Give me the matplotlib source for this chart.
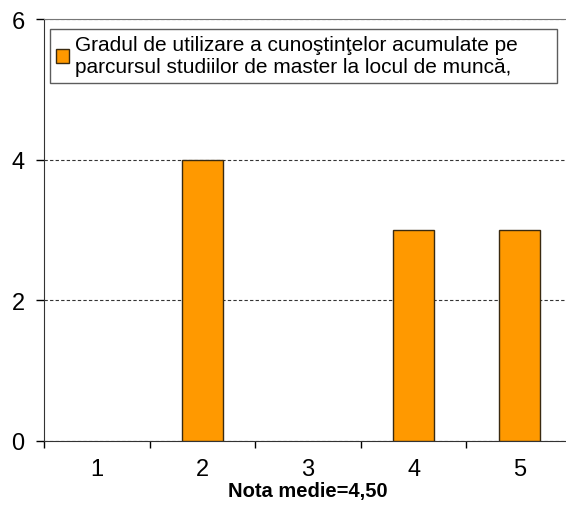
import matplotlib.pyplot as plt
from matplotlib.patches import Patch
from matplotlib.ticker import FixedLocator

plt.rcParams['font.family'] = ['Liberation Sans', 'DejaVu Sans']

# Data
categories = ["1", "2", "3", "4", "5"]
counts = [0, 4, 0, 3, 3]
legend_label = ("Gradul de utilizare a cunoştinţelor acumulate pe\n"
                "parcursul studiilor de master la locul de muncă,")
x_label = "Nota medie=4,50"

bar_color = "#FF9900"
edge_color = "#3a2a10"

fig = plt.figure(figsize=(5.66, 5.06), dpi=100)
ax = fig.add_axes([44 / 566, 1 - 442 / 506, 528 / 566, 422 / 506])

x = list(range(1, len(categories) + 1))
edge_widths = [1.0 if v > 0 else 0 for v in counts]
ax.bar(x, counts, width=0.39, color=bar_color, edgecolor=edge_color,
       linewidth=edge_widths, zorder=3)

ax.set_xlim(0.5, len(categories) + 0.5)
ax.set_ylim(0, 6)
ax.set_yticks([0, 2, 4, 6])

ax.set_xticks(x)
ax.set_xticklabels(categories, fontsize=17)
ax.xaxis.set_minor_locator(FixedLocator([i + 0.5 for i in range(0, len(categories) + 1)]))
ax.tick_params(axis="x", which="major", length=0, pad=12)
ax.tick_params(axis="x", which="minor", length=5, width=1, direction="out")
ax.tick_params(axis="y", length=6, width=1, labelsize=17, pad=8)

# Grid
ax.grid(axis="y", linestyle=(0, (3, 2)), color="#333333", linewidth=0.8, zorder=0)

ax.spines["right"].set_visible(False)
ax.spines["top"].set_color("#777777")
ax.spines["left"].set_color("#333333")
ax.spines["bottom"].set_color("#333333")

ax.set_xlabel(x_label, fontsize=14.5, fontweight="bold", labelpad=1)

# Legend
handle = Patch(facecolor=bar_color, edgecolor=edge_color, linewidth=1.0)
leg = ax.legend([handle], [legend_label],
                loc="upper left", bbox_to_anchor=(6 / 528, 1 - 10 / 422, 507 / 528, 0),
                mode="expand", fontsize=15,
                frameon=True, fancybox=False, edgecolor="#333333",
                handlelength=0.6, handleheight=0.6, handletextpad=0.3,
                borderpad=0.3, borderaxespad=0)
leg.get_frame().set_linewidth(1.0)

plt.savefig("out.png", dpi=100)
